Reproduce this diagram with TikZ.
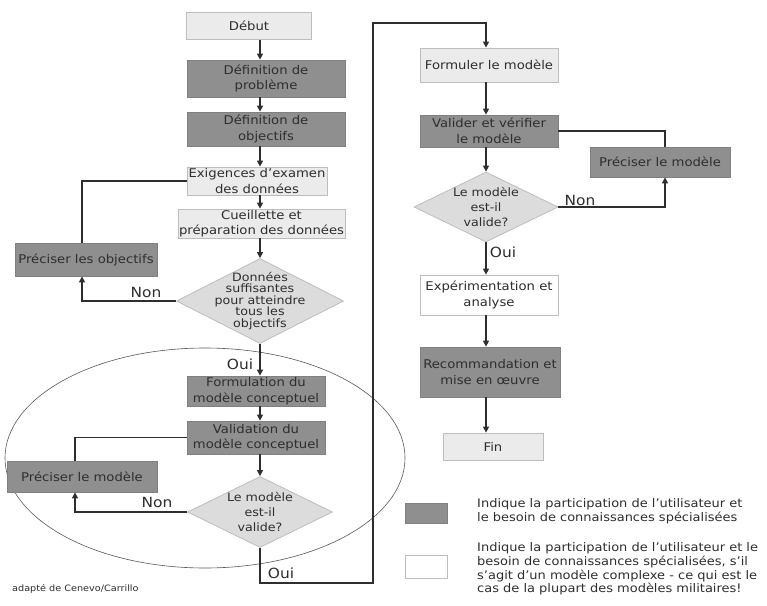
\documentclass[tikz,border=0pt]{standalone}
\usepackage{fontspec}
\setmainfont{DejaVu Sans}[FakeStretch=1.1]
\usetikzlibrary{shapes.geometric,arrows.meta}

\definecolor{darkfill}{HTML}{8F8F8F}
\definecolor{darkline}{HTML}{808080}
\definecolor{lightfill}{HTML}{EBEBEB}
\definecolor{lightline}{HTML}{BDBDBD}
\definecolor{diafill}{HTML}{DCDCDC}
\definecolor{ink}{HTML}{2E2E2E}

\newcommand\boxfont{\fontsize{12}{15.5}\selectfont}
\newcommand\tightfont{\fontsize{11.5}{11.5}\selectfont}
\newcommand\diafont{\fontsize{11.5}{15}\selectfont}
\newcommand\lblfont{\fontsize{14}{14}\selectfont}
\newcommand\legfont{\fontsize{11.8}{13.8}\selectfont}

\tikzset{
  base/.style={rectangle, inner sep=0pt, align=center, font=\boxfont, text=ink, line width=0.8pt},
  darkbox/.style={base, fill=darkfill, draw=darkline},
  lightbox/.style={base, fill=lightfill, draw=lightline},
  whitebox/.style={base, fill=white, draw=lightline},
  decision/.style={diamond, fill=diafill, draw=lightline, line width=0.8pt, inner sep=0pt},
  dtext/.style={align=center, text=ink, inner sep=0pt},
  flow/.style={draw=ink, line width=1.4pt, -{Triangle[length=6pt,width=6pt]}},
  link/.style={draw=ink, line width=1.4pt},
  lbl/.style={font=\lblfont, text=ink, inner sep=0pt},
  legtext/.style={font=\legfont, text=ink, align=left, inner sep=0pt, anchor=west},
}

\begin{document}
\begin{tikzpicture}[x=1pt, y=-1pt]
\useasboundingbox (0,0) rectangle (767,605);
\fill[white] (0,0) rectangle (767,605);

% column axes and turning points
\coordinate (L) at (260,0);
\coordinate (R) at (486,0);
\coordinate (fbA) at (82,0);
\coordinate (fbB) at (75,0);
\coordinate (fbC) at (665,0);
\coordinate (turn1) at (373,583);
\coordinate (turn2) at (373,23);

% conceptual-model loop
\draw[draw=ink!80, line width=0.6pt] (205,458) ellipse [x radius=200, y radius=110];

% left column
\node[lightbox, minimum width=125, minimum height=27] (debut) at (249,26) {Début};
\node[darkbox, minimum width=158, minimum height=37] (defprob) at (266,78.5) {Définition de\\problème};
\node[darkbox, minimum width=158, minimum height=34] (defobj) at (266,129) {Définition de\\objectifs};
\node[lightbox, minimum width=140, minimum height=28] (exig) at (257,181) {Exigences d'examen\\des données};
\node[lightbox, minimum width=167, minimum height=29] (cueil) at (261.5,223.5) {Cueillette et\\préparation des données};
\node[decision, minimum width=167, minimum height=85,
      label={[dtext, font=\tightfont]center:Données\\suffisantes\\pour atteindre\\tous les\\objectifs}] (d1) at (260,301) {};
\node[darkbox, minimum width=142, minimum height=33] (precobj) at (86,259.5) {Préciser les objectifs};
\node[darkbox, minimum width=138, minimum height=30] (formul) at (256,391) {Formulation du\\modèle conceptuel};
\node[darkbox, minimum width=138, minimum height=33] (valid) at (256,437.5) {Validation du\\modèle conceptuel};
\node[darkbox, minimum width=150, minimum height=31] (precmodA) at (82,476.5) {Préciser le modèle};
\node[decision, minimum width=145, minimum height=71,
      label={[dtext, font=\diafont]center:Le modèle\\est-il\\valide?}] (d2) at (260,512) {};

% right column
\node[lightbox, minimum width=138, minimum height=34] (formuler) at (489,65) {Formuler le modèle};
\node[darkbox, minimum width=138, minimum height=32] (valider) at (489,131) {Valider et vérifier\\le modèle};
\node[darkbox, minimum width=140, minimum height=30] (precmodB) at (660,162) {Préciser le modèle};
\node[decision, minimum width=144, minimum height=70,
      label={[dtext, font=\diafont]center:Le modèle\\est-il\\valide?}] (d3) at (486,207) {};
\node[whitebox, minimum width=138, minimum height=40] (exper) at (489,295) {Expérimentation et\\analyse};
\node[darkbox, minimum width=140, minimum height=50] (recom) at (490,372) {Recommandation et\\mise en œuvre};
\node[lightbox, minimum width=100, minimum height=27] (fin) at (493,446.5) {Fin};

% main sequence, left
\draw[flow] (debut.south -| L) -- (defprob.north -| L);
\draw[flow] (defprob.south -| L) -- (defobj.north -| L);
\draw[flow] (defobj.south -| L) -- (exig.north -| L);
\draw[flow] (exig.south -| L) -- (cueil.north -| L);
\draw[flow] (cueil.south -| L) -- (d1.north);
\draw[flow] (d1.south) -- (formul.north -| L);
\draw[flow] (formul.south -| L) -- (valid.north -| L);
\draw[flow] (valid.south -| L) -- (d2.north);

% feedback loops, left
\draw[link] (exig.west) -| (precobj.north -| fbA);
\draw[flow] (d1.west) -| (precobj.south -| fbA);
\draw[link] (valid.west) -| (precmodA.north -| fbB);
\draw[flow] (d2.west) -| (precmodA.south -| fbB);

% jump to the right column
\draw[flow] (d2.south) |- (turn1) -- (turn2) -| (formuler.north -| R);

% main sequence, right
\draw[flow] (formuler.south -| R) -- (valider.north -| R);
\draw[flow] (valider.south -| R) -- (d3.north);
\draw[flow] (d3.south) -- (exper.north -| R);
\draw[flow] (exper.south -| R) -- (recom.north -| R);
\draw[flow] (recom.south -| R) -- (fin.north -| R);

% feedback loop, right
\draw[link] (valider.east) -| (precmodB.north -| fbC);
\draw[flow] (d3.east) -| (precmodB.south -| fbC);

% branch labels
\node[lbl] (non1) at (146,292) {Non};
\node[lbl] (oui1) at (240,364) {Oui};
\node[lbl] (non2) at (157,502) {Non};
\node[lbl] (oui2) at (281,573) {Oui};
\node[lbl] (non3) at (580,200) {Non};
\node[lbl] (oui3) at (503,252) {Oui};

% legend
\node[darkbox, minimum width=42, minimum height=20] (legdark) at (426,513) {};
\node[whitebox, minimum width=42, minimum height=23] (legwhite) at (426,566.5) {};
\node[legtext] (legdarktext) at (477,511.5) {Indique la participation de l'utilisateur et\\le besoin de connaissances spécialisées};
\node[legtext] (legwhitetext) at (477,569) {Indique la participation de l'utilisateur et le\\besoin de connaissances spécialisées, s'il\\s'agit d'un modèle complexe - ce qui est le\\cas de la plupart des modèles militaires!};

% source note
\node[font=\fontsize{8.8}{10}\selectfont, text=ink, anchor=west, inner sep=0pt] (source) at (12,589) {adapté de Cenevo/Carrillo};
\end{tikzpicture}
\end{document}
